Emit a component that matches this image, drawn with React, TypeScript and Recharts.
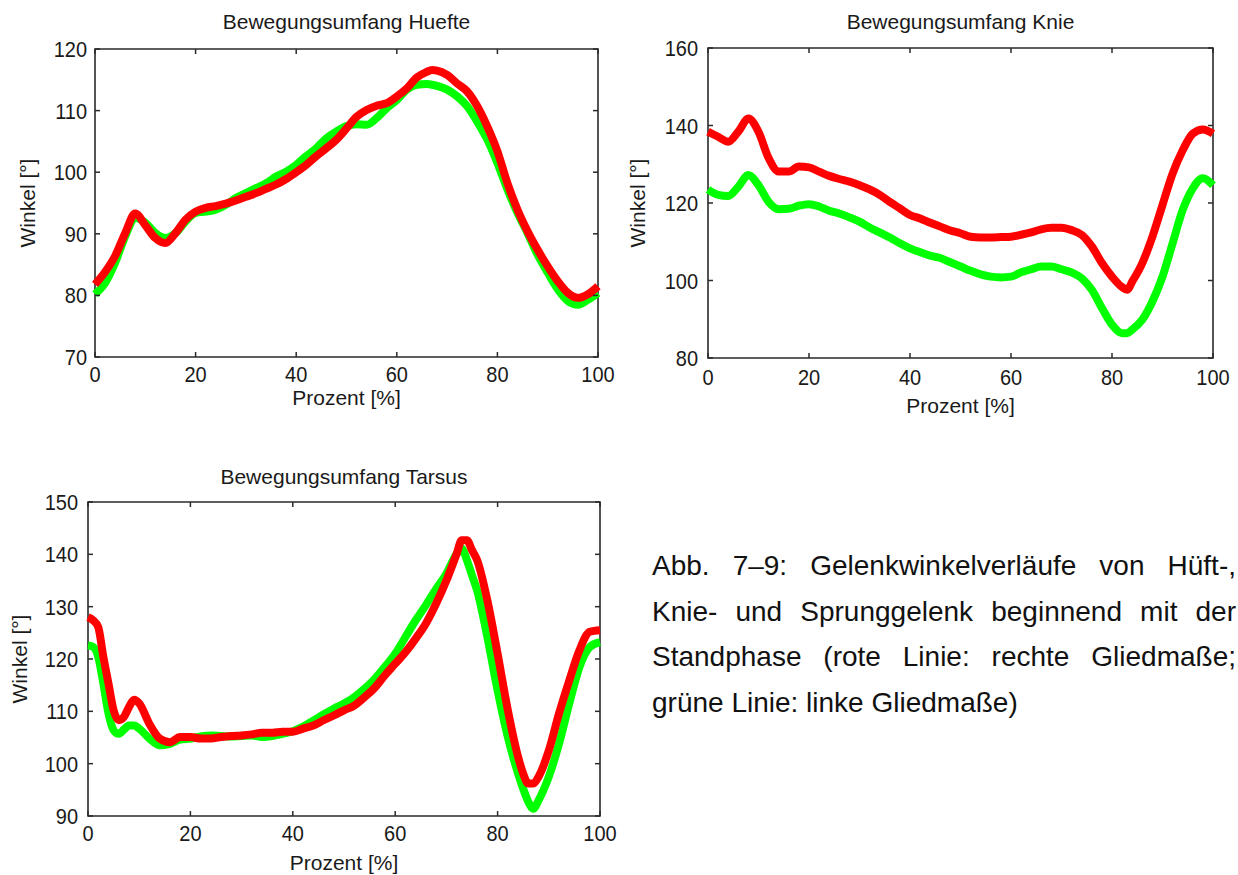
import React from 'react'
import { LineChart, Line, XAxis, YAxis, ReferenceArea } from 'recharts'

// Prozent des Schrittzyklus, rechte (rot) und linke (grün) Gliedmaße
const huefteProzent = [0, 2, 4, 6, 8, 10, 12, 14, 16, 18, 20, 22, 24, 26, 28, 30, 32, 34, 36, 38, 40, 42, 44, 46, 48, 50, 52, 54, 56, 58, 60, 62, 64, 66, 67, 68, 70, 72, 74, 76, 78, 80, 82, 84, 86, 88, 90, 92, 94, 96, 98, 100]
const huefteRechts = [81.8, 83.8, 86.4, 90.1, 93.3, 91.4, 89.3, 88.5, 90.1, 92.3, 93.6, 94.2, 94.5, 94.9, 95.4, 96.0, 96.6, 97.3, 98.0, 98.9, 100.0, 101.2, 102.6, 103.9, 105.3, 107.1, 109.0, 110.1, 110.8, 111.2, 112.3, 113.6, 115.4, 116.3, 116.6, 116.5, 115.8, 114.4, 113.1, 110.7, 107.4, 103.4, 98.2, 93.9, 90.4, 87.4, 84.7, 82.3, 80.4, 79.6, 80.2, 81.5]
const huefteLinks = [80.2, 82.0, 85.3, 89.6, 92.6, 91.8, 90.1, 89.3, 90.1, 92.0, 93.4, 93.6, 93.9, 94.7, 95.8, 96.6, 97.4, 98.2, 99.3, 100.1, 101.2, 102.6, 103.9, 105.5, 106.6, 107.5, 107.8, 107.7, 108.8, 110.4, 111.7, 113.4, 114.2, 114.3, 114.2, 114.0, 113.4, 112.3, 110.7, 108.2, 105.3, 101.5, 97.2, 93.4, 90.1, 86.6, 83.7, 81.0, 79.1, 78.5, 79.3, 80.4]

const knieProzent = [0, 2, 4, 6, 8, 10, 12, 14, 16, 18, 20, 22, 24, 26, 28, 30, 32, 34, 36, 38, 40, 42, 44, 46, 48, 50, 52, 54, 56, 58, 60, 62, 64, 66, 68, 70, 72, 74, 76, 78, 80, 82, 83, 84, 86, 88, 90, 92, 94, 96, 98, 100]
const knieRechts = [138.4, 137.1, 135.8, 138.4, 141.8, 138.4, 131.6, 128.1, 128.1, 129.4, 129.2, 128.1, 127.0, 126.2, 125.5, 124.6, 123.5, 122.1, 120.3, 118.6, 116.9, 116.0, 114.9, 113.9, 112.9, 112.2, 111.3, 111.1, 111.1, 111.2, 111.3, 111.8, 112.4, 113.2, 113.6, 113.6, 113.0, 111.8, 108.8, 104.5, 101.0, 98.3, 97.6, 99.7, 104.5, 111.3, 119.5, 127.6, 133.6, 137.9, 139.0, 137.9]
const knieLinks = [123.5, 122.1, 121.8, 124.2, 127.2, 124.6, 120.3, 118.4, 118.5, 119.3, 119.7, 119.1, 118.0, 117.3, 116.3, 115.2, 113.7, 112.4, 111.1, 109.6, 108.3, 107.3, 106.4, 105.8, 104.7, 103.6, 102.5, 101.6, 101.0, 100.8, 101.0, 102.1, 102.9, 103.6, 103.6, 102.9, 102.1, 100.6, 97.6, 92.9, 88.6, 86.4, 86.4, 87.3, 89.9, 94.6, 101.0, 109.6, 118.2, 123.8, 126.4, 124.6]

const tarsusProzent = [0, 1, 2, 3, 4, 5, 6, 7, 8, 9, 10, 12, 14, 16, 18, 20, 22, 24, 26, 28, 30, 32, 34, 36, 38, 40, 42, 44, 46, 48, 50, 52, 54, 56, 58, 60, 62, 64, 66, 68, 70, 72, 73, 74, 75, 76, 78, 80, 82, 84, 85, 86, 87, 88, 90, 92, 94, 96, 98, 100]
const tarsusRechts = [128.0, 127.4, 126.1, 120.4, 115.3, 110.2, 108.3, 108.9, 110.8, 112.2, 111.5, 107.6, 104.8, 104.1, 105.1, 105.1, 104.8, 104.8, 105.1, 105.3, 105.4, 105.6, 105.9, 105.9, 106.1, 106.1, 106.7, 107.3, 108.3, 109.2, 110.2, 111.1, 112.7, 114.5, 116.9, 119.1, 121.3, 123.9, 126.8, 130.6, 135.0, 140.1, 142.7, 142.7, 140.8, 138.9, 131.2, 121.0, 110.2, 101.3, 98.1, 96.2, 96.2, 97.5, 102.5, 109.6, 115.9, 121.7, 125.2, 125.5]
const tarsusLinks = [122.6, 122.3, 120.4, 115.3, 109.6, 106.4, 105.7, 106.5, 107.3, 107.3, 106.7, 104.8, 103.5, 103.8, 104.6, 104.8, 105.2, 105.4, 105.3, 105.2, 105.3, 105.4, 105.1, 105.3, 105.7, 106.2, 107.1, 108.2, 109.4, 110.5, 111.5, 112.7, 114.3, 116.2, 118.5, 121.0, 124.2, 127.4, 130.3, 133.4, 136.3, 140.1, 141.1, 138.9, 136.0, 133.1, 124.2, 114.0, 105.1, 98.1, 95.2, 92.7, 91.4, 93.0, 97.5, 103.8, 111.5, 118.5, 122.3, 123.2]

const prozentTicks = [0, 20, 40, 60, 80, 100]
const huefteTicks = [70, 80, 90, 100, 110, 120]
const knieTicks = [80, 100, 120, 140, 160]
const tarsusTicks = [90, 100, 110, 120, 130, 140, 150]

const captionLines = [
  'Abb. 7–9: Gelenkwinkelverläufe von Hüft-,',
  'Knie- und Sprunggelenk beginnend mit der',
  'Standphase (rote Linie: rechte Gliedmaße;',
  'grüne Linie: linke Gliedmaße)',
]

const FONT = "'Liberation Sans', Arial, Helvetica, sans-serif"
const INK = '#1a1a1a'
const FRAME = '#2a2a2a'
const TICK_LEN = 5
const STRETCH = 1.12 // Beschriftung der Achsen wirkt im Original etwas hochgezogen

interface Box {
  left: number
  top: number
  width: number
  height: number
  margin: { top: number; right: number; bottom: number; left: number }
  yAxisWidth: number
  xAxisHeight: number
  xTickGap: number // Abstand Rahmen unten -> Grundlinie der x-Beschriftung
  yTickGap: number // Abstand Rahmen links -> rechtes Ende der y-Beschriftung
  xLabelOffset: number
  yLabelOffset: number
  titleTop: number
}

interface Props {
  title: string
  prozent: number[]
  rechts: number[]
  links: number[]
  yTicks: number[]
  box: Box
}

function JointChart({ title, prozent, rechts, links, yTicks, box }: Props) {
  const data = prozent.map((p, i) => ({ p, rechts: rechts[i], links: links[i] }))
  const yMin = yTicks[0]
  const yMax = yTicks[yTicks.length - 1]
  const plotLeft = box.margin.left + box.yAxisWidth
  const plotRight = box.width - box.margin.right
  const plotTop = box.margin.top
  const plotBottom = box.height - box.margin.bottom - box.xAxisHeight

  // Matlab-Stil: Striche nach innen, oben/unten bzw. links/rechts gespiegelt
  const renderXTick = (props: any) => {
    const { x, payload } = props
    return (
      <g>
        <line x1={x} x2={x} y1={plotBottom} y2={plotBottom - TICK_LEN} stroke={FRAME} strokeWidth={1.5} />
        <line x1={x} x2={x} y1={plotTop} y2={plotTop + TICK_LEN} stroke={FRAME} strokeWidth={1.5} />
        <text
          transform={`translate(${x} ${plotBottom + box.xTickGap}) scale(1 ${STRETCH})`}
          textAnchor="middle"
          fill={INK}
          fontSize={20}
          fontFamily={FONT}
        >
          {payload.value}
        </text>
      </g>
    )
  }

  const renderYTick = (props: any) => {
    const { y, payload } = props
    return (
      <g>
        <line x1={plotLeft} x2={plotLeft + TICK_LEN} y1={y} y2={y} stroke={FRAME} strokeWidth={1.5} />
        <line x1={plotRight} x2={plotRight - TICK_LEN} y1={y} y2={y} stroke={FRAME} strokeWidth={1.5} />
        <text
          transform={`translate(${plotLeft - box.yTickGap} ${y + 8}) scale(1 ${STRETCH})`}
          textAnchor="end"
          fill={INK}
          fontSize={20}
          fontFamily={FONT}
        >
          {payload.value}
        </text>
      </g>
    )
  }

  return (
    <div style={{ position: 'absolute', left: box.left, top: box.top, width: box.width, height: box.height }}>
      <div
        style={{
          position: 'absolute',
          left: plotLeft,
          width: plotRight - plotLeft,
          top: box.titleTop,
          textAlign: 'center',
          fontFamily: FONT,
          fontSize: 21,
          lineHeight: '24px',
          color: INK,
        }}
      >
        {title}
      </div>
      <LineChart width={box.width} height={box.height} data={data} margin={box.margin}>
        <XAxis
          dataKey="p"
          type="number"
          domain={[0, 100]}
          ticks={prozentTicks}
          interval={0}
          height={box.xAxisHeight}
          axisLine={false}
          tickLine={false}
          tick={renderXTick}
          label={{ value: 'Prozent [%]', position: 'insideBottom', offset: box.xLabelOffset, fill: INK, fontSize: 21, fontFamily: FONT }}
        />
        <YAxis
          type="number"
          domain={[yMin, yMax]}
          ticks={yTicks}
          interval={0}
          width={box.yAxisWidth}
          axisLine={false}
          tickLine={false}
          tick={renderYTick}
          label={{ value: 'Winkel [°]', angle: -90, position: 'insideLeft', offset: box.yLabelOffset, fill: INK, fontSize: 21, fontFamily: FONT, style: { textAnchor: 'middle' } }}
        />
        <ReferenceArea x1={0} x2={100} y1={yMin} y2={yMax} fill="none" fillOpacity={0} stroke={FRAME} strokeWidth={1.6} />
        <Line type="monotone" dataKey="links" stroke="#00ff00" strokeWidth={8} dot={false} isAnimationActive={false} />
        <Line type="monotone" dataKey="rechts" stroke="#ff0000" strokeWidth={8} dot={false} isAnimationActive={false} />
      </LineChart>
    </div>
  )
}

const huefteBox: Box = {
  left: 0, top: 0, width: 620, height: 430,
  margin: { top: 49, right: 22, bottom: 18, left: 0 },
  yAxisWidth: 95, xAxisHeight: 55,
  xTickGap: 25, yTickGap: 8, xLabelOffset: 7, yLabelOffset: 28, titleTop: 10,
}

const knieBox: Box = {
  left: 620, top: 0, width: 618, height: 430,
  margin: { top: 48, right: 25, bottom: 17, left: 0 },
  yAxisWidth: 88, xAxisHeight: 55,
  xTickGap: 27, yTickGap: 10, xLabelOffset: 0, yLabelOffset: 18, titleTop: 10,
}

const tarsusBox: Box = {
  left: 0, top: 440, width: 620, height: 435,
  margin: { top: 62, right: 20, bottom: 4, left: 0 },
  yAxisWidth: 88, xAxisHeight: 55,
  xTickGap: 25, yTickGap: 10, xLabelOffset: 1, yLabelOffset: 20, titleTop: 25,
}

export default function App() {
  return (
    <div style={{ position: 'absolute', left: 0, top: 0, width: 1238, height: 875, background: '#fff', overflow: 'hidden' }}>
      <JointChart title="Bewegungsumfang Huefte" prozent={huefteProzent} rechts={huefteRechts} links={huefteLinks} yTicks={huefteTicks} box={huefteBox} />
      <JointChart title="Bewegungsumfang Knie" prozent={knieProzent} rechts={knieRechts} links={knieLinks} yTicks={knieTicks} box={knieBox} />
      <JointChart title="Bewegungsumfang Tarsus" prozent={tarsusProzent} rechts={tarsusRechts} links={tarsusLinks} yTicks={tarsusTicks} box={tarsusBox} />
      <div style={{ position: 'absolute', left: 652, top: 543, width: 584, fontFamily: FONT, fontSize: 28, lineHeight: '45.5px', color: '#111' }}>
        {captionLines.map((line, i) => (
          <div key={i} style={{ textAlign: 'justify', textAlignLast: i < captionLines.length - 1 ? 'justify' : 'left', whiteSpace: 'nowrap' }}>
            {line}
          </div>
        ))}
      </div>
    </div>
  )
}
